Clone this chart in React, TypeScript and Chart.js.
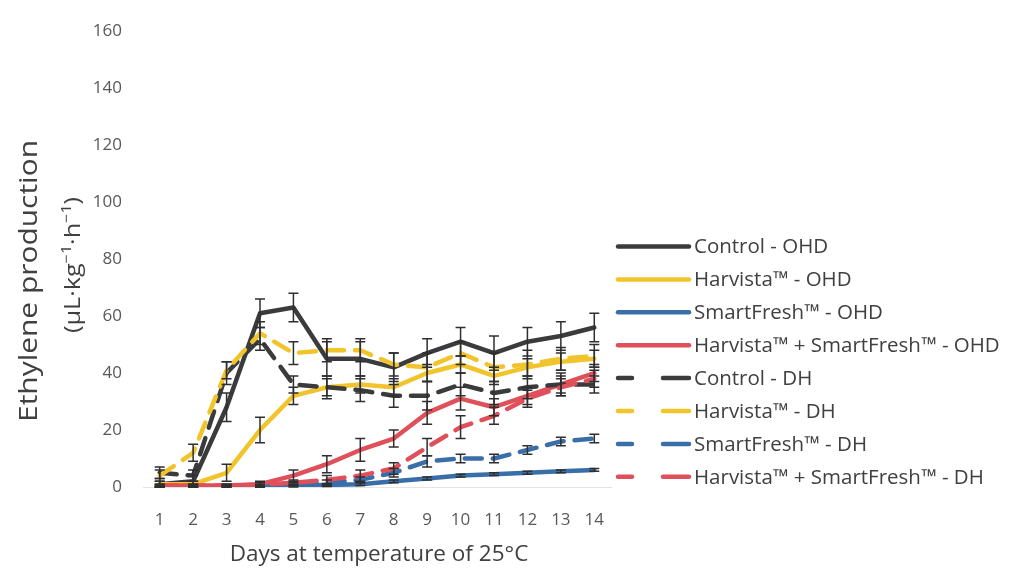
import React, { useEffect, useRef } from "react";
import { Chart, registerables } from "chart.js";

Chart.register(...registerables);

const days = ["1", "2", "3", "4", "5", "6", "7", "8", "9", "10", "11", "12", "13", "14"];
const yTicks = [0, 20, 40, 60, 80, 100, 120, 140, 160];

const controlOHD = [1, 2, 28, 61, 63, 45, 45, 42, 47, 51, 47, 51, 53, 56];
const harvistaOHD = [1, 1, 5, 20, 32, 35, 36, 35, 40, 43, 39, 42, 44, 45];
const smartOHD = [0.3, 0.3, 0.3, 0.3, 0.5, 0.7, 1, 2, 3, 4, 4.5, 5, 5.5, 6];
const hsOHD = [0.5, 0.5, 0.5, 1, 4, 8, 13, 17, 26, 31, 28, 32, 36, 40];
const controlDH = [5, 4, 40, 52, 36, 35, 34, 32, 32, 36, 33, 35, 36, 36];
const harvistaDH = [4, 12, 41, 54, 47, 48, 48, 43, 42, 47, 42, 43, 45, 46];
const smartDH = [0.3, 0.3, 0.3, 0.5, 1, 1.5, 2.5, 5, 9, 10, 10, 13, 16, 17];
const hsDH = [0.5, 0.5, 0.5, 0.8, 1.5, 2.5, 4, 6.5, 14, 21, 25, 31, 35, 38];

const errControlOHD = [2, 2, 5, 5, 5, 6, 6, 5, 5, 5, 6, 5, 5, 5];
const errHarvistaOHD = [1, 1, 3, 4.5, 3, 3, 3, 3, 3, 3, 3, 3, 3, 3];
const errSmartOHD = [0.3, 0.3, 0.3, 0.3, 0.5, 0.5, 0.5, 0.5, 0.5, 0.5, 0.5, 0.5, 0.5, 0.5];
const errHsOHD = [0.5, 0.5, 0.5, 1, 2, 3, 4, 3, 4, 4, 3, 3, 3, 3];
const errControlDH = [2, 2, 4, 4, 3, 4, 4, 4, 5, 4, 4, 4, 4, 3];
const errHarvistaDH = [2, 3, 3, 4, 4, 4, 4, 4, 5, 4, 5, 5, 4, 4];
const errSmartDH = [0.3, 0.3, 0.3, 0.5, 0.5, 1, 1, 1.5, 2, 1.5, 1.5, 1.5, 1.5, 1.5];
const errHsDH = [0.5, 0.5, 0.5, 0.8, 1, 1.5, 2, 2, 3, 4, 3, 3, 3, 3];

const labels = [
  "Control - OHD",
  "Harvista\u2122 - OHD",
  "SmartFresh\u2122 - OHD",
  "Harvista\u2122 + SmartFresh\u2122 - OHD",
  "Control - DH",
  "Harvista\u2122 - DH",
  "SmartFresh\u2122 - DH",
  "Harvista\u2122 + SmartFresh\u2122 - DH",
];
const values = [controlOHD, harvistaOHD, smartOHD, hsOHD, controlDH, harvistaDH, smartDH, hsDH];
const errors = [errControlOHD, errHarvistaOHD, errSmartOHD, errHsOHD, errControlDH, errHarvistaDH, errSmartDH, errHsDH];
const colors = ["#3b3b3d", "#f2c42c", "#3a6ea8", "#e0505a", "#3b3b3d", "#f2c42c", "#3a6ea8", "#e0505a"];
const dashed = [false, false, false, false, true, true, true, true];

const xTitle = "Days at temperature of 25\u00b0C";
const yTitle1 = "Ethylene production";

const FONT = "'Open Sans', sans-serif";
const DASH = [17, 11];

const errorBarPlugin = {
  id: "errorBars",
  afterDatasetsDraw(chart: any) {
    const ctx = chart.ctx;
    const y = chart.scales.y;
    ctx.save();
    ctx.strokeStyle = "#2f2f2f";
    ctx.lineWidth = 1.5;
    chart.data.datasets.forEach((ds: any, di: number) => {
      const meta = chart.getDatasetMeta(di);
      const err = errors[di];
      meta.data.forEach((pt: any, i: number) => {
        const v = ds.data[i];
        const top = y.getPixelForValue(v + err[i]);
        const bot = y.getPixelForValue(Math.max(0, v - err[i]));
        const x = pt.x;
        ctx.beginPath();
        ctx.moveTo(x, top);
        ctx.lineTo(x, bot);
        ctx.moveTo(x - 5, top);
        ctx.lineTo(x + 5, top);
        ctx.moveTo(x - 5, bot);
        ctx.lineTo(x + 5, bot);
        ctx.stroke();
      });
    });
    ctx.restore();
  },
};

const legendAndTitlesPlugin = {
  id: "customLegend",
  afterDraw(chart: any) {
    const ctx = chart.ctx;
    ctx.save();
    // legend
    const x0 = 617;
    const x1 = 691;
    const startY = 246.5;
    const step = 32.9;
    ctx.font = `20.5px ${FONT}`;
    ctx.textBaseline = "middle";
    ctx.textAlign = "left";
    labels.forEach((lab, i) => {
      const yy = startY + i * step;
      ctx.strokeStyle = colors[i];
      ctx.lineWidth = 4.5;
      ctx.lineCap = "round";
      ctx.beginPath();
      if (dashed[i]) {
        ctx.moveTo(x0 + 1, yy);
        ctx.lineTo(x0 + 15, yy);
        ctx.moveTo(x0 + 46, yy);
        ctx.lineTo(x1 - 2, yy);
      } else {
        ctx.moveTo(x0 + 1, yy);
        ctx.lineTo(x1 - 2, yy);
      }
      ctx.stroke();
      ctx.fillStyle = "#404040";
      ctx.fillText(lab, x1 + 3, yy + 1);
    });

    // x title
    ctx.fillStyle = "#404040";
    ctx.textAlign = "center";
    ctx.textBaseline = "middle";
    ctx.font = `22.5px ${FONT}`;
    const xa = chart.chartArea;
    ctx.fillText(xTitle, (xa.left + xa.right) / 2 + 2, 555);

    // y title line 1
    ctx.save();
    ctx.translate(30, 281);
    ctx.rotate(-Math.PI / 2);
    ctx.font = `25px ${FONT}`;
    const w1 = ctx.measureText(yTitle1).width;
    ctx.scale(282 / w1, 1);
    ctx.fillText(yTitle1, 0, 0);
    ctx.restore();

    // y title line 2 with superscripts
    ctx.save();
    ctx.translate(74, 265);
    ctx.rotate(-Math.PI / 2);
    const parts: [string, boolean][] = [
      ["(\u00b5L\u00b7kg", false],
      ["\u22121", true],
      ["\u00b7h", false],
      ["\u22121", true],
      [")", false],
    ];
    const big = `22px ${FONT}`;
    const small = `14px ${FONT}`;
    let total = 0;
    parts.forEach(([t, sup]) => {
      ctx.font = sup ? small : big;
      total += ctx.measureText(t).width;
    });
    const s2 = 136 / total;
    ctx.scale(s2, 1);
    let cx = -total / 2;
    ctx.textAlign = "left";
    parts.forEach(([t, sup]) => {
      ctx.font = sup ? small : big;
      ctx.fillText(t, cx, sup ? -7 : 0);
      cx += ctx.measureText(t).width;
    });
    ctx.restore();
    ctx.restore();
  },
};

export default function App() {
  const ref = useRef<HTMLCanvasElement>(null);
  useEffect(() => {
    document.body.style.margin = "0";
    const chart = new Chart(ref.current!, {
      type: "line",
      data: {
        labels: days,
        datasets: values.map((v, i) => ({
          label: labels[i],
          data: v,
          borderColor: colors[i],
          backgroundColor: colors[i],
          borderWidth: 4.5,
          borderDash: dashed[i] ? DASH : [],
          borderCapStyle: "round",
          borderJoinStyle: "round",
          pointRadius: 0,
          tension: 0,
          fill: false,
          order: 7 - i,
        })),
      },
      options: {
        animation: false,
        responsive: false,
        maintainAspectRatio: false,
        layout: { padding: { left: 0, right: 407, top: 22, bottom: 0 } },
        plugins: {
          legend: { display: false },
          tooltip: { enabled: false },
          title: { display: false },
        },
        scales: {
          x: {
            type: "category",
            offset: true,
            grid: { display: false, drawTicks: false },
            border: { display: true, color: "#e4e4e4", width: 1 },
            ticks: { color: "#595959", font: { family: FONT, size: 17 }, padding: 23, maxRotation: 0, autoSkip: false },
            afterFit(scale: any) {
              scale.height = 85;
            },
          },
          y: {
            min: 0,
            max: 160,
            afterBuildTicks(scale: any) {
              scale.ticks = yTicks.map((v) => ({ value: v }));
            },
            grid: { display: false, drawTicks: false },
            border: { display: false },
            ticks: { color: "#595959", font: { family: FONT, size: 17 }, padding: 21 },
            afterFit(scale: any) {
              scale.width = 143;
            },
          },
        },
      },
      plugins: [errorBarPlugin, legendAndTitlesPlugin],
    } as any);
    return () => chart.destroy();
  }, []);
  return (
    <div style={{ position: "absolute", left: 0, top: 0, width: 1018, height: 572, background: "#fff" }}>
      <canvas ref={ref} width={1018} height={572} style={{ width: 1018, height: 572 }} />
    </div>
  );
}
